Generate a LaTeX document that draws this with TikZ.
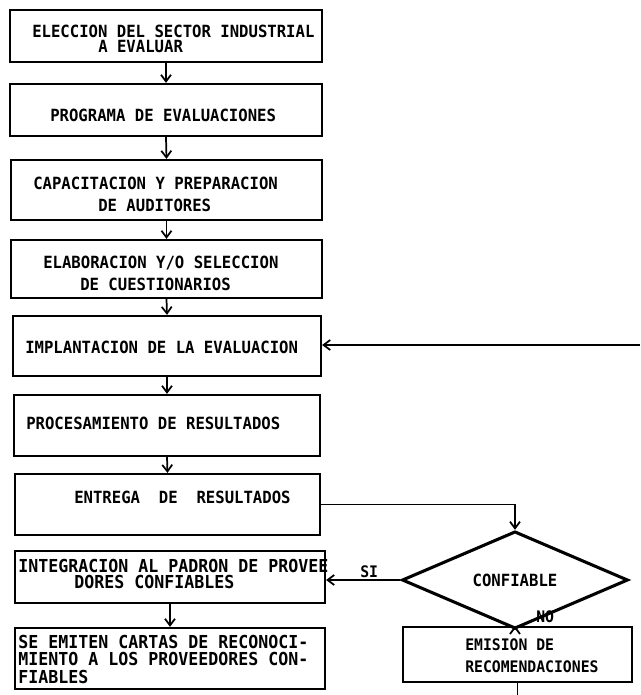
\documentclass[tikz,border=0pt]{standalone}
\usepackage{fontspec}
\newfontfamily\typew{DejaVu Sans Mono}[FakeStretch=0.93]
\usetikzlibrary{arrows.meta,shapes.geometric,fit}
\begin{document}
\begin{tikzpicture}[x=0.75pt,y=-0.75pt,
  box/.style={draw, line width=1.7pt, inner sep=0pt},
  lbl/.style={anchor=base west, inner sep=0pt, font=\typew\bfseries\fontsize{12.6pt}{14pt}\selectfont},
  lblw/.style={lbl, font=\typew\bfseries\fontsize{13.4pt}{15pt}\selectfont},
  lbln/.style={lbl, font=\typew\bfseries\fontsize{11.9pt}{13pt}\selectfont},
  flow/.style={line width=1.3pt, -{Straight Barb[length=5pt,width=7.5pt,line width=1.3pt]}},
  wire/.style={line width=1.3pt},
]
\useasboundingbox[fill=white] (0,0) rectangle (640,695);

% process boxes of the main column
\node[box, fit={(10,10)(322,62)}]   (b1) {};
\node[box, fit={(10,84)(322,136)}]  (b2) {};
\node[box, fit={(11,160)(322,220)}] (b3) {};
\node[box, fit={(11,240)(322,298)}] (b4) {};
\node[box, fit={(13,316)(321,376)}] (b5) {};
\node[box, fit={(14,395)(320,456)}] (b6) {};
\node[box, fit={(15,474)(320,535)}] (b7) {};
\node[box, fit={(15,551)(325,603)}] (b8) {};
\node[box, fit={(15,628)(325,689)}] (b9) {};

% decision and recommendation branch
\node[diamond, draw, line width=2.3pt, minimum width=169.5pt, minimum height=42pt,
      inner sep=0pt, font=\typew\bfseries\fontsize{12.6pt}{14pt}\selectfont] (dia) at (515,580) {CONFIABLE};
\node[box, fit={(403,627)(632,682)}] (emi) {};

% box texts
\node[lbl] (t1a) at (32,38)  {ELECCION DEL SECTOR INDUSTRIAL};
\node[lbl] (t1b) at (98,53)  {A EVALUAR};
\node[lbl] (t2)  at (50,122) {PROGRAMA DE EVALUACIONES};
\node[lbl] (t3a) at (33,190) {CAPACITACION Y PREPARACION};
\node[lbl] (t3b) at (98,212) {DE AUDITORES};
\node[lbl] (t4a) at (43,268) {ELABORACION Y/O SELECCION};
\node[lbl] (t4b) at (80,290) {DE CUESTIONARIOS};
\node[lbl] (t5)  at (25,353) {IMPLANTACION DE LA EVALUACION};
\node[lbl] (t6)  at (26,429) {PROCESAMIENTO DE RESULTADOS};
\node[lbl] (t7)  at (74,503) {ENTREGA~~DE~~RESULTADOS};
\node[lblw] (t8a) at (18,572) {INTEGRACION AL PADRON DE PROVEE};
\node[lblw] (t8b) at (74,588) {DORES CONFIABLES};
\node[lblw] (t9a) at (18,648) {SE EMITEN CARTAS DE RECONOCI-};
\node[lblw] (t9b) at (18,665) {MIENTO A LOS PROVEEDORES CON-};
\node[lblw] (t9c) at (18,683) {FIABLES};
\node[lbln] (te1) at (465,650) {EMISION DE};
\node[lbln] (te2) at (465,672) {RECOMENDACIONES};
\node[lbln] (si)  at (360,577) {SI};
\node[lbln] (no)  at (536,622) {NO};

% main sequence
\draw[flow] (b1.south) -- (b2.north);
\draw[flow] (b2.south) -- (b3.north);
\draw[flow] (b3.south) -- (b4.north);
\draw[flow] (b4.south) -- (b5.north);
\draw[flow] (b5.south) -- (b6.north);
\draw[flow] (b6.south) -- (b7.north);
\draw[flow] (b8.south) -- (b8.south |- b9.north);

% results go to the decision
\draw[flow] (b7.east) -- (b7.east -| dia.north) -- (dia.north);
\draw[flow] (dia.west) -- (dia.west -| b8.east);
\draw[flow] (dia.south) -- (dia.south |- emi.north);

% feedback loop back to the evaluation
\coordinate (rb) at (640,695);
\coordinate (rt) at (640,345);
\draw[wire] (emi.south) -- (emi.south |- rb);
\draw[flow] (rt) -- (rt -| b5.east);
\end{tikzpicture}
\end{document}
